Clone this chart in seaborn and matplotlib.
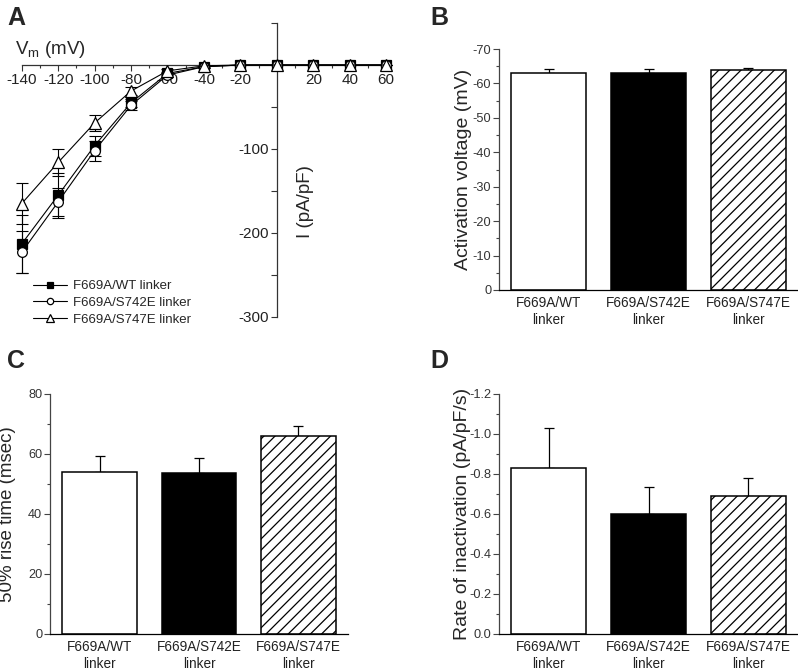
import numpy as np
import pandas as pd
import matplotlib
matplotlib.use('Agg')
from matplotlib import pyplot as plt
from matplotlib.ticker import MultipleLocator
import seaborn as sns

# panel A: I-V curves
voltages = [-140, -120, -100, -80, -60, -40, -20, 0, 20, 40, 60]
wt_current = [-213, -155, -96, -45, -10, -2, 0, 0, 0, 0, 0]
wt_sem = [35, 27, 12, 5, 2, 1, 0, 0, 0, 0, 0]
s742e_current = [-223, -163, -102, -48, -12, -2, 0, 0, 0, 0, 0]
s742e_sem = [25, 17, 12, 5, 2, 1, 0, 0, 0, 0, 0]
s747e_current = [-165, -116, -69, -31, -7, -1, 0, 0, 0, 0, 0]
s747e_sem = [24, 16, 9, 5, 2, 1, 0, 0, 0, 0, 0]
series_names = ['F669A/WT linker', 'F669A/S742E linker', 'F669A/S747E linker']

# panels B-D: bar charts
categories = ['F669A/WT\nlinker', 'F669A/S742E\nlinker', 'F669A/S747E\nlinker']
activation_v = [-63.0, -63.0, -64.0]
activation_v_sem = [1.2, 1.2, 0.6]
rise_time = [54.0, 53.6, 66.0]
rise_time_sem = [5.5, 5.0, 3.3]
inact_rate = [-0.83, -0.60, -0.69]
inact_rate_sem = [0.20, 0.135, 0.09]

sns.set_style('ticks')
plt.rcParams['font.family'] = ['Liberation Sans', 'DejaVu Sans']
plt.rcParams['hatch.linewidth'] = 0.9
plt.rcParams['mathtext.default'] = 'regular'

W, H = 798, 672
fig = plt.figure(figsize=(W / 100, H / 100), dpi=100)


def px_axes(left, top, right, bottom):
    return fig.add_axes([left / W, 1 - bottom / H, (right - left) / W, (bottom - top) / H])


tick_color = '#333333'

# ---- A ----
ax = px_axes(21.7, 23, 388, 317)
ax.set_facecolor('none')
markers = [('s', 'black'), ('o', 'white'), ('^', 'white')]
for name, cur, sem, (mk, fc) in zip(series_names,
                                    [wt_current, s742e_current, s747e_current],
                                    [wt_sem, s742e_sem, s747e_sem], markers):
    ax.errorbar(voltages, cur, yerr=sem, fmt='none', ecolor='black', elinewidth=0.8,
                capsize=4.5, capthick=0.8, zorder=2, clip_on=False)
    sns.lineplot(x=voltages, y=cur, ax=ax, color='black', linewidth=0.8, marker=mk,
                 markersize=7 if mk != '^' else 8, markerfacecolor=fc, markeredgecolor='black',
                 markeredgewidth=0.9, label=name, zorder=3, clip_on=False)
ax.set_xlim(-140, 61)
ax.set_ylim(-300, 50)
for s in ['top', 'right']:
    ax.spines[s].set_visible(False)
ax.spines['left'].set_position(('data', 0))
ax.spines['bottom'].set_position(('data', 0))
for s in ['left', 'bottom']:
    ax.spines[s].set_linewidth(0.9)
    ax.spines[s].set_color('#333333')
xt = list(range(-140, 61, 20))
ax.set_xticks(xt)
ax.set_xticklabels(['' if v == 0 else str(v) for v in xt])
ax.xaxis.set_minor_locator(MultipleLocator(10))
yt = list(range(-300, 51, 50))
ax.set_yticks(yt)
ax.set_yticklabels([str(v) if v in (-100, -200, -300) else '' for v in yt])
ax.tick_params(axis='both', which='major', length=4, width=0.8, labelsize=11,
               colors='#333333', labelcolor='#222222', pad=2)
ax.tick_params(axis='x', which='minor', length=2.5, width=0.8, colors='#333333')
ax.set_xlabel('')
ax.set_ylabel('')
ax.text(-143.7, 19, 'V$_m$ (mV)', fontsize=13.5, va='center', ha='left')
ax.text(15.5, -162, 'I (pA/pF)', fontsize=13.5, rotation=90, va='center', ha='center')
ax.legend(loc='upper left', bbox_to_anchor=(33 / W, 1 - 280 / H), bbox_transform=fig.transFigure,
          frameon=False, fontsize=9.5, handlelength=2.6, handletextpad=0.4,
          labelspacing=0.35, markerscale=0.65, borderpad=0, borderaxespad=0)


# ---- bar panels ----
def bar_panel(ax, values, sems, ylim, major, minor, fmt, ylabel, label_x):
    df = pd.DataFrame({'construct': categories, 'value': values})
    sns.barplot(data=df, x='construct', y='value', hue='construct', ax=ax, width=0.75,
                palette=['white', 'black', 'white'], edgecolor='black', linewidth=1.1,
                legend=False, errorbar=None, zorder=1)
    ax.patches[2].set_hatch('///')
    err = np.array(sems)
    zeros = np.zeros_like(err)
    if values[0] < 0:
        yerr = [err, zeros]
    else:
        yerr = [zeros, err]
    ax.errorbar(range(3), values, yerr=yerr, fmt='none', ecolor='black', elinewidth=0.9,
                capsize=3.5, capthick=0.9, zorder=0.5)
    ax.set_xlim(-0.5, 2.5)
    ax.set_ylim(*ylim)
    ax.yaxis.set_major_locator(MultipleLocator(major))
    ax.yaxis.set_minor_locator(MultipleLocator(minor))
    ax.yaxis.set_major_formatter(plt.FormatStrFormatter(fmt))
    for s in ['top', 'right']:
        ax.spines[s].set_visible(False)
    for s in ['left', 'bottom']:
        ax.spines[s].set_linewidth(0.9)
    ax.spines['left'].set_color('#444444')
    ax.spines['bottom'].set_color('black')
    ax.tick_params(axis='y', which='major', length=4, width=0.8, labelsize=9.2,
                   colors='#444444', labelcolor=tick_color, pad=1.5)
    ax.tick_params(axis='y', which='minor', length=2.5, width=0.8, colors='#444444')
    ax.tick_params(axis='x', length=0, labelsize=9.8, labelcolor='#222222', pad=4)
    for lab in ax.get_xticklabels():
        lab.set_linespacing(1.3)
    ax.set_xlabel('')
    ax.set_ylabel(ylabel, fontsize=14)
    ax.yaxis.set_label_coords(label_x, 0.5)


axB = px_axes(499, 49, 798, 290)
bar_panel(axB, activation_v, activation_v_sem, (0, -70), 10, 5, '%d',
          'Activation voltage (mV)', -0.09)

axC = px_axes(50, 394, 348, 634)
bar_panel(axC, rise_time, rise_time_sem, (0, 80), 20, 10, '%d',
          '50% rise time (msec)', -0.113)
axC.yaxis.label.set_fontsize(13.5)

axD = px_axes(499, 394, 798, 634)
bar_panel(axD, inact_rate, inact_rate_sem, (0, -1.2), 0.2, 0.1, '%.1f',
          'Rate of inactivation (pA/pF/s)', -0.093)

for letter, x, y in [('A', 7, 25), ('B', 430, 25), ('C', 7, 368), ('D', 430, 368)]:
    fig.text(x / W, 1 - y / H, letter, fontsize=18, fontweight='bold', va='baseline', ha='left')

fig.savefig('out.png', dpi=100)
